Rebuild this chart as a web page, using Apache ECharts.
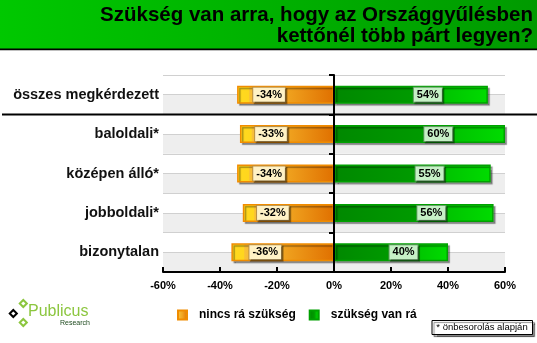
<!DOCTYPE html>
<html><head><meta charset="utf-8">
<script src="https://cdn.jsdelivr.net/npm/echarts@6/dist/echarts.min.js"></script>
<style>html,body{margin:0;padding:0;background:#fff}#c{width:537px;height:343px}</style>
</head><body><div id="c"></div>
<script>
const categories = ['összes megkérdezett', 'baloldali*', 'középen álló*', 'jobboldali*', 'bizonytalan'];
const nincsValues = [-34, -33, -34, -32, -36];
const vanValues = [54, 60, 55, 56, 40];
const seriesNames = ['nincs rá szükség', 'szükség van rá'];
const xMin = -60, xMax = 60, xStep = 20;
const titleText = 'Szükség van arra, hogy az Országgyűlésben\nkettőnél több párt legyen?';
const footnoteText = '* önbesorolás alapján';

const FONT = '"Liberation Sans", Arial, Helvetica, sans-serif';
const chart = echarts.init(document.getElementById('c'), null, {renderer: 'canvas'});

const orangeGrad = new echarts.graphic.LinearGradient(0, 0, 1, 0, [
  {offset: 0, color: '#FFDA1E'}, {offset: 0.12, color: '#FFD61E'},
  {offset: 0.13, color: '#F8C038'}, {offset: 0.5, color: '#F0A420'}, {offset: 1, color: '#E07000'}
]);
const greenGrad = new echarts.graphic.LinearGradient(0, 0, 1, 0, [
  {offset: 0, color: '#008800'}, {offset: 0.5, color: '#009A00'},
  {offset: 0.72, color: '#00C400'}, {offset: 1, color: '#00DC00'}
]);

const labelBase = {
  show: true, align: 'center', verticalAlign: 'middle', formatter: '{c}%',
  fontFamily: FONT, fontSize: 11, fontWeight: 'bold', color: '#000',
  borderWidth: 1, padding: [2, 3, 1, 3],
  shadowColor: 'rgba(0,0,0,0.35)', shadowOffsetX: 1.5, shadowOffsetY: 1.5, shadowBlur: 0
};

const option = {
  animation: false,
  backgroundColor: '#fff',
  textStyle: {fontFamily: FONT},
  title: {
    text: titleText, left: 533, top: 5, padding: 0, z: 10, textAlign: 'right',
    textStyle: {fontFamily: FONT, fontSize: 20.5, fontWeight: 'bold', color: '#000', lineHeight: 21, align: 'right'}
  },
  grid: {left: 163, right: 32, top: 75, bottom: 71, containLabel: false},
  legend: {
    left: 177, top: 309, padding: 0, itemWidth: 9, itemHeight: 9, itemGap: 13, icon: 'rect',
    data: seriesNames,
    textStyle: {fontFamily: FONT, fontSize: 12, fontWeight: 'bold', color: '#000', padding: [0, 0, 0, 7]}
  },
  xAxis: {
    type: 'value', min: xMin, max: xMax, interval: xStep,
    axisLine: {show: true, onZero: false, lineStyle: {color: '#000', width: 2}},
    axisTick: {show: true, inside: true, length: 5, lineStyle: {color: '#000', width: 2}},
    axisLabel: {formatter: '{value}%', fontFamily: FONT, fontSize: 11, fontWeight: 'bold', color: '#000', margin: 8},
    splitLine: {show: false}
  },
  yAxis: [
    {
      type: 'category', data: categories, inverse: true, z: 5,
      axisLine: {show: true, onZero: true, lineStyle: {color: '#000', width: 2}},
      axisTick: {show: true, length: 5, lineStyle: {color: '#000', width: 2}},
      axisLabel: {fontFamily: FONT, fontSize: 14.5, fontWeight: 'bold', color: '#111', margin: 4},
      splitLine: {show: false}
    },
    {
      type: 'value', min: 0, max: 10, interval: 1, position: 'right',
      axisLine: {show: false, onZero: false}, axisTick: {show: false}, axisLabel: {show: false},
      splitLine: {show: true, lineStyle: {color: '#d0d0d0', width: 1}},
      splitArea: {show: true, areaStyle: {color: ['#eeeeee', '#ffffff']}}
    }
  ],
  series: [
    {
      name: seriesNames[0], type: 'bar', stack: 'all', data: nincsValues, barWidth: 18,
      itemStyle: {color: orangeGrad, borderColor: '#F08C00', borderWidth: 1.5,
        shadowColor: 'rgba(0,0,0,0.35)', shadowOffsetX: 2, shadowOffsetY: 2, shadowBlur: 1},
      label: Object.assign({}, labelBase, {position: ['33%', '50%'], backgroundColor: '#FFF2C6', borderColor: '#B89048'})
    },
    {
      name: seriesNames[1], type: 'bar', stack: 'all', data: vanValues, barWidth: 18,
      itemStyle: {color: greenGrad, borderColor: '#00A000', borderWidth: 1.5,
        shadowColor: 'rgba(0,0,0,0.35)', shadowOffsetX: 2, shadowOffsetY: 2, shadowBlur: 1},
      label: Object.assign({}, labelBase, {position: ['61%', '50%'], backgroundColor: '#C6F0C6', borderColor: '#5C9A5C'})
    }
  ]
};
chart.setOption(option);

// decorations: banner, separator, logo, footnote
const sepY = chart.convertToPixel({yAxisIndex: 1}, 8);
const diamond = (cx, cy, col) => ({
  type: 'rect', x: cx, y: cy, originX: 0, originY: 0, rotation: Math.PI / 4,
  shape: {x: -2.5, y: -2.5, width: 5, height: 5},
  style: {fill: '#fff', stroke: col, lineWidth: 2}, z: 10
});
chart.setOption({
  graphic: [
    {type: 'rect', shape: {x: 0, y: 0, width: 537, height: 49}, z: -10,
      style: {fill: new echarts.graphic.LinearGradient(0, 0, 1, 0, [{offset: 0, color: '#00C800'}, {offset: 1, color: '#009A00'}])}},
    {type: 'rect', shape: {x: 0, y: 48.5, width: 537, height: 1.7}, style: {fill: '#000'}, z: 10},
    {type: 'line', shape: {x1: 2, y1: sepY, x2: 537, y2: sepY}, style: {stroke: '#000', lineWidth: 2}, z: 10},
    diamond(13.3, 313.5, '#000'),
    diamond(23.3, 303.5, '#8CC63F'),
    diamond(23.3, 322.5, '#8CC63F'),
    {type: 'text', x: 28, y: 319.5, z: 10,
      style: {text: 'Publicus', font: '16px ' + FONT, fill: '#8CC63F', textVerticalAlign: 'bottom'}},
    {type: 'text', x: 60, y: 323.5, z: 10,
      style: {text: 'Research', font: '7px ' + FONT, fill: '#1E4A1E', textVerticalAlign: 'middle'}},
    {type: 'rect', shape: {x: 432, y: 320.5, width: 100.5, height: 14}, z: 10,
      style: {fill: '#fff', stroke: '#000', lineWidth: 1, shadowColor: 'rgba(0,0,0,0.45)', shadowOffsetX: 2, shadowOffsetY: 2, shadowBlur: 1}},
    {type: 'text', x: 482, y: 327.5, z: 11,
      style: {text: footnoteText, font: '9.5px ' + FONT, fill: '#000', textAlign: 'center', textVerticalAlign: 'middle'}}
  ]
});
</script>
</body></html>
